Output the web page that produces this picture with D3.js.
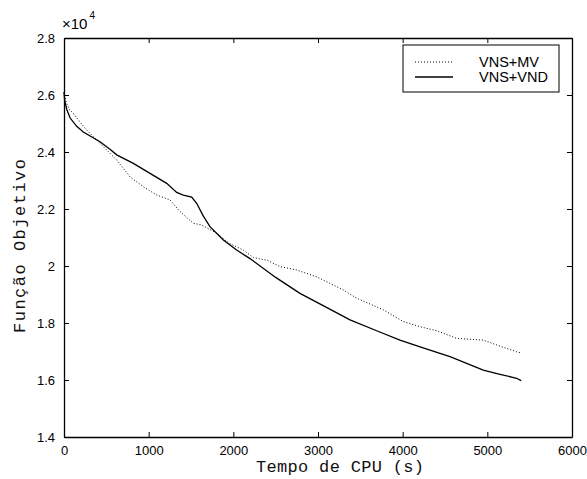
<!DOCTYPE html>
<html>
<head>
<meta charset="utf-8">
<script src="https://cdn.jsdelivr.net/npm/d3@7"></script>
<style>
  body { margin: 0; background: #fff; }
  .tick text { font-family: Arial, 'Liberation Sans', sans-serif; font-size: 13px; fill: #000; }
  .lbl { font-family: 'Courier New', 'Liberation Mono', monospace; font-size: 17px; fill: #111; }
</style>
</head>
<body>
<div class="chart-container"></div>
<script>
// Data (y in units of x10^4)
const xTicks = [0, 1000, 2000, 3000, 4000, 5000, 6000];
const yTicks = [1.4, 1.6, 1.8, 2, 2.2, 2.4, 2.6, 2.8];
const seriesNames = ['VNS+MV', 'VNS+VND'];

const mvTime = [0, 20, 60, 110, 189, 260, 346, 504, 622, 780, 937, 1095, 1252, 1370, 1527, 1626, 1803, 1950, 2118, 2236, 2400, 2551, 2748, 2984, 3299, 3457, 3772, 4008, 4205, 4401, 4638, 4952, 5110, 5346, 5400];
const mvValue = [2.61, 2.58, 2.55, 2.536, 2.505, 2.48, 2.454, 2.407, 2.372, 2.313, 2.278, 2.249, 2.232, 2.191, 2.150, 2.144, 2.115, 2.08, 2.056, 2.030, 2.02, 1.998, 1.986, 1.962, 1.916, 1.887, 1.846, 1.805, 1.787, 1.773, 1.746, 1.740, 1.723, 1.699, 1.695];

const vndTime = [0, 8, 32, 71, 150, 228, 425, 543, 622, 819, 1016, 1213, 1331, 1409, 1508, 1567, 1646, 1724, 1882, 2039, 2197, 2500, 2787, 3100, 3378, 3700, 3968, 4250, 4559, 4952, 5150, 5346, 5400];
const vndValue = [2.61, 2.58, 2.55, 2.52, 2.49, 2.47, 2.436, 2.41, 2.39, 2.36, 2.325, 2.29, 2.258, 2.249, 2.242, 2.22, 2.175, 2.138, 2.091, 2.056, 2.026, 1.96, 1.904, 1.855, 1.811, 1.772, 1.740, 1.712, 1.682, 1.635, 1.62, 1.606, 1.598];

const svg_width = 587;
const svg_height = 479;
const margin = { top: 38, right: 15, bottom: 42, left: 64 };
const chart_width = svg_width - margin.left - margin.right;
const chart_height = svg_height - margin.top - margin.bottom;

const svg = d3.select('.chart-container').append('svg')
    .attr('width', svg_width).attr('height', svg_height);
const g = svg.append('g').attr('transform', `translate(${margin.left},${margin.top})`);

const xScale = d3.scaleLinear([0, 6000], [0, chart_width]);
const yScale = d3.scaleLinear([1.4, 2.8], [chart_height, 0]);

// axes, matlab style ticks pointing inward
const xAxis = d3.axisBottom(xScale).tickValues(xTicks).tickFormat(d3.format('d'))
    .tickSizeInner(-5).tickSizeOuter(0).tickPadding(9);
const yAxis = d3.axisLeft(yScale).tickValues(yTicks).tickFormat(d => d)
    .tickSizeInner(-5).tickSizeOuter(0).tickPadding(9);
const xTop = d3.axisTop(xScale).tickValues(xTicks).tickFormat('').tickSizeInner(-5).tickSizeOuter(0);
const yRight = d3.axisRight(yScale).tickValues(yTicks).tickFormat('').tickSizeInner(-5).tickSizeOuter(0);

g.append('g').attr('transform', `translate(0,${chart_height})`).call(xAxis);
g.append('g').call(yAxis);
g.append('g').call(xTop);
g.append('g').attr('transform', `translate(${chart_width},0)`).call(yRight);
g.selectAll('.domain').attr('stroke', '#000').attr('stroke-width', 1.3);
g.selectAll('.tick line').attr('stroke', '#000');

// lines
const mvData = mvTime.map((t, i) => ({ t: t, v: mvValue[i] }));
const vndData = vndTime.map((t, i) => ({ t: t, v: vndValue[i] }));
const line = d3.line().x(d => xScale(d.t)).y(d => yScale(d.v));

g.append('path').datum(mvData).attr('d', line)
    .attr('fill', 'none').attr('stroke', '#000').attr('stroke-width', 1)
    .attr('stroke-dasharray', '1,2');
g.append('path').datum(vndData).attr('d', line)
    .attr('fill', 'none').attr('stroke', '#000').attr('stroke-width', 1.3);

// x10^4 multiplier
const mult = svg.append('text').attr('x', 62).attr('y', 29)
    .style('font-family', 'Arial, sans-serif').style('font-size', '15px');
mult.append('tspan').text('\u00d710');
mult.append('tspan').text('4').attr('dy', -10).attr('dx', 2).style('font-size', '10px');

// axis labels
svg.append('text').attr('class', 'lbl').attr('x', 340).attr('y', 472)
    .attr('text-anchor', 'middle').attr('textLength', 168).attr('lengthAdjust', 'spacing')
    .text('Tempo de CPU (s)');
svg.append('text').attr('class', 'lbl')
    .attr('transform', 'translate(25,246) rotate(-90)')
    .attr('text-anchor', 'middle').attr('textLength', 174).attr('lengthAdjust', 'spacing')
    .text('Função Objetivo');

// legend
const legend = svg.append('g').attr('transform', 'translate(403,45)');
legend.append('rect').attr('width', 156).attr('height', 47)
    .attr('fill', '#fff').attr('stroke', '#000').attr('stroke-width', 1);
seriesNames.forEach((name, i) => {
    const y = 17 + i * 15;
    legend.append('line').attr('x1', 12).attr('x2', 50).attr('y1', y).attr('y2', y)
        .attr('stroke', '#000').attr('stroke-width', i === 0 ? 1 : 1.3)
        .attr('stroke-dasharray', i === 0 ? '1,2' : null);
    legend.append('text').attr('x', 76).attr('y', y + 5)
        .style('font-family', 'Arial, sans-serif').style('font-size', '14.5px')
        .text(name);
});
</script>
</body>
</html>
